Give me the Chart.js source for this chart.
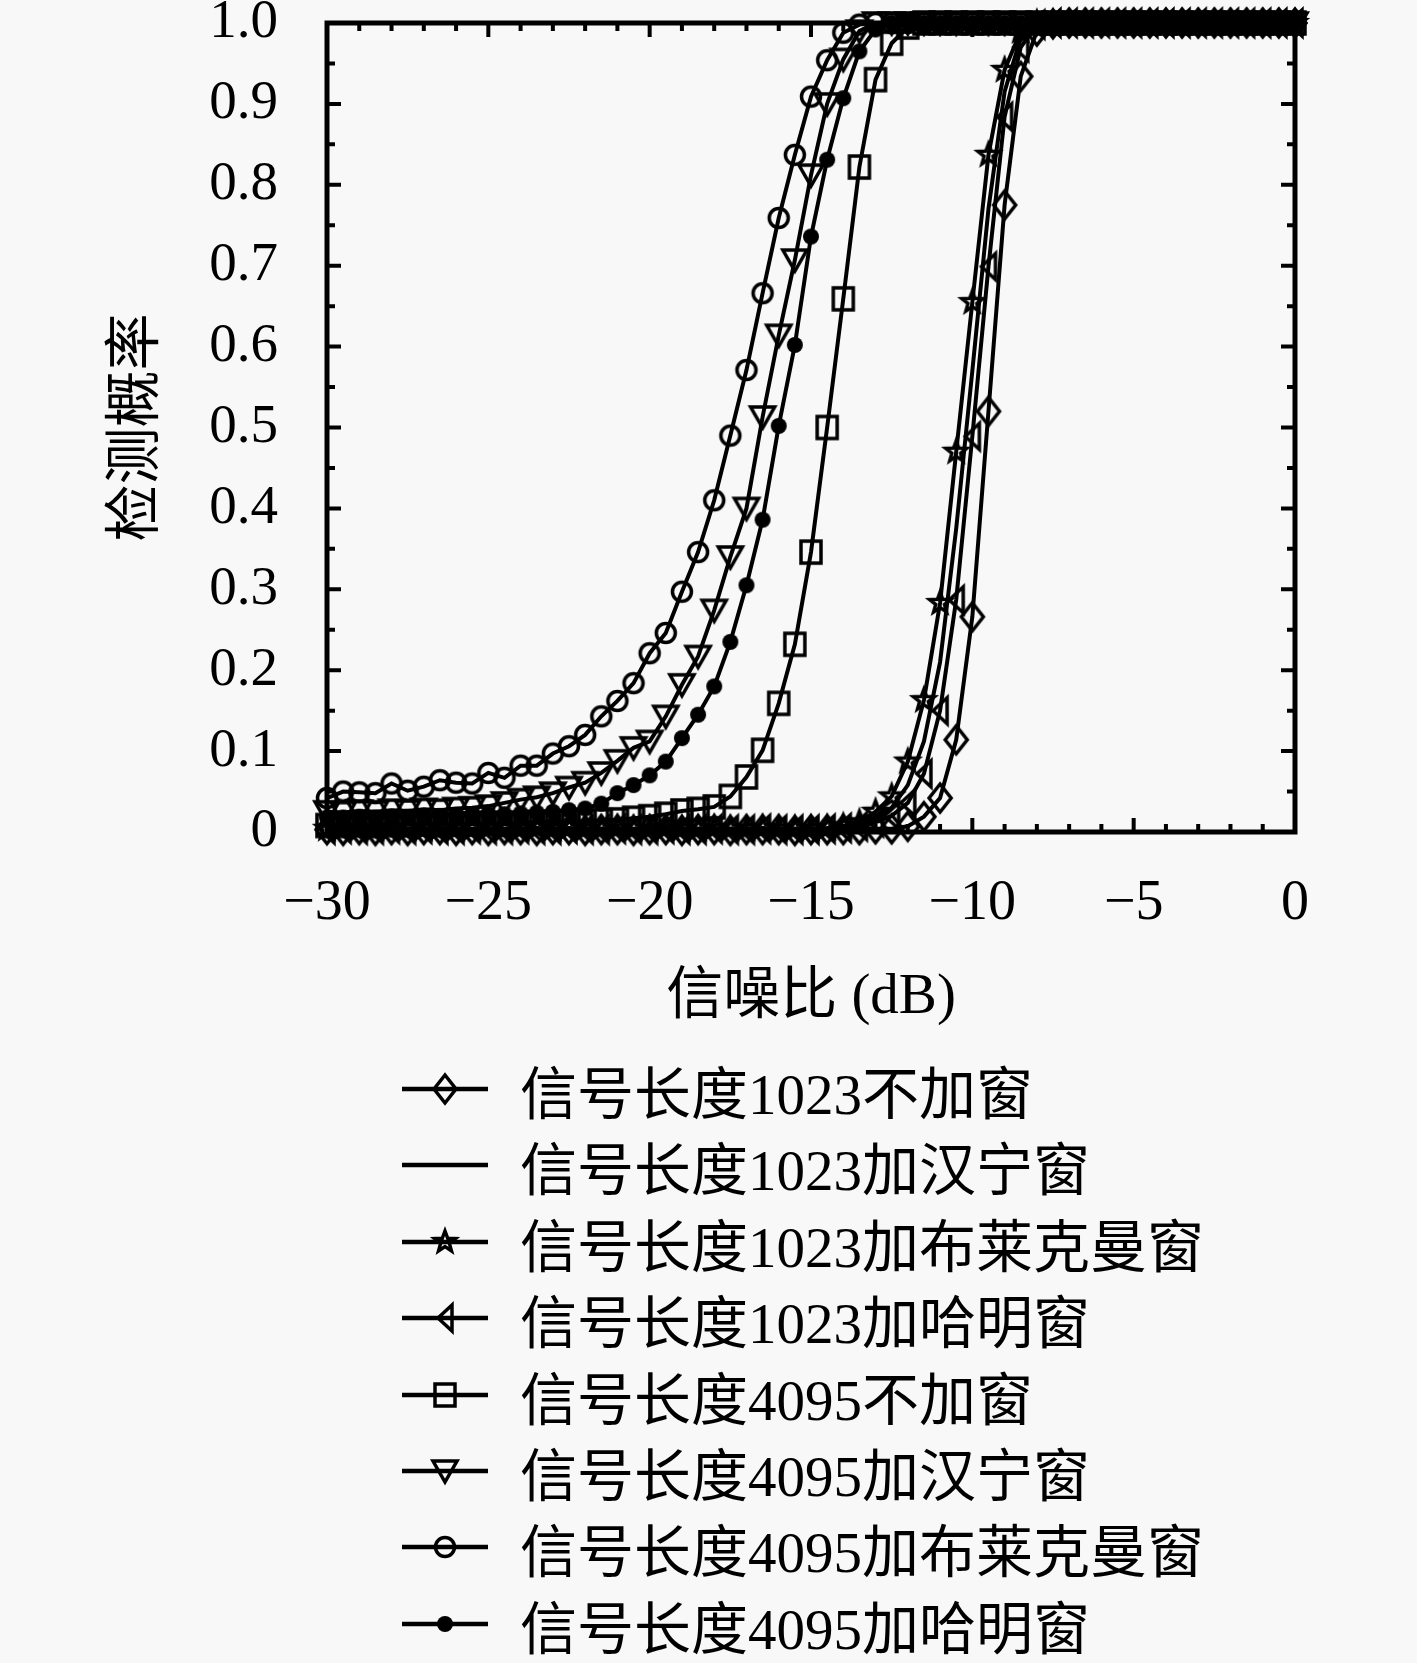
<!DOCTYPE html>
<html>
<head>
<meta charset="utf-8">
<script src="https://cdn.jsdelivr.net/npm/chart.js@4.4.1/dist/chart.umd.min.js"></script>
<style>
  body { margin: 0; background: #f8f8f8; }
  #page { position: relative; width: 1417px; height: 1663px; overflow: hidden; }
  #chartBox { position: absolute; left: 0; top: 0; width: 1417px; height: 1050px; }
  .row { position: absolute; left: 402px; height: 76px; display: flex; align-items: center;
         font: 57px 'Liberation Serif', 'Noto Sans CJK SC', serif; color: #000; white-space: nowrap; }
  .row canvas { margin-right: 32px; }
</style>
</head>
<body>
<div id="page">
  <div id="chartBox"><canvas id="pdChart"></canvas></div>
  <div id="legend"></div>
</div>
<script>
// SNR axis (dB), one point every 0.5 dB
const snr = [
  -30, -29.5, -29, -28.5, -28, -27.5, -27, -26.5, -26, -25.5,
  -25, -24.5, -24, -23.5, -23, -22.5, -22, -21.5, -21, -20.5,
  -20, -19.5, -19, -18.5, -18, -17.5, -17, -16.5, -16, -15.5,
  -15, -14.5, -14, -13.5, -13, -12.5, -12, -11.5, -11, -10.5,
  -10, -9.5, -9, -8.5, -8, -7.5, -7, -6.5, -6, -5.5,
  -5, -4.5, -4, -3.5, -3, -2.5, -2, -1.5, -1, -0.5,
  0
];

// detection probability, signal length 1023
const pd1023None = [
  0.003, 0.002, 0.003, 0.002, 0.003, 0.002, 0.003, 0.003, 0.002, 0.003,
  0.002, 0.003, 0.003, 0.002, 0.003, 0.003, 0.002, 0.003, 0.003, 0.002,
  0.003, 0.003, 0.002, 0.003, 0.003, 0.002, 0.003, 0.003, 0.003, 0.002,
  0.003, 0.003, 0.003, 0.003, 0.004, 0.004, 0.007, 0.019, 0.042, 0.114,
  0.266, 0.520, 0.775, 0.934, 0.990, 0.999, 1, 1, 1, 1,
  1, 1, 1, 1, 1, 1, 1, 1, 1, 1,
  1
];
const pd1023Hanning = [
  0.004, 0.003, 0.004, 0.004, 0.003, 0.004, 0.003, 0.004, 0.004, 0.003,
  0.004, 0.004, 0.003, 0.004, 0.004, 0.003, 0.004, 0.004, 0.004, 0.003,
  0.004, 0.004, 0.003, 0.004, 0.004, 0.004, 0.003, 0.004, 0.004, 0.004,
  0.004, 0.004, 0.005, 0.008, 0.016, 0.030, 0.058, 0.112, 0.210, 0.375,
  0.570, 0.770, 0.915, 0.982, 0.998, 1, 1, 1, 1, 1,
  1, 1, 1, 1, 1, 1, 1, 1, 1, 1,
  1
];
const pd1023Blackman = [
  0.004, 0.005, 0.004, 0.004, 0.005, 0.004, 0.004, 0.005, 0.004, 0.004,
  0.005, 0.004, 0.004, 0.005, 0.004, 0.005, 0.004, 0.004, 0.005, 0.004,
  0.004, 0.005, 0.004, 0.004, 0.005, 0.004, 0.004, 0.005, 0.004, 0.004,
  0.004, 0.005, 0.007, 0.012, 0.025, 0.044, 0.087, 0.163, 0.283, 0.470,
  0.655, 0.837, 0.942, 0.990, 1, 1, 1, 1, 1, 1,
  1, 1, 1, 1, 1, 1, 1, 1, 1, 1,
  1
];
const pd1023Hamming = [
  0.003, 0.004, 0.003, 0.003, 0.004, 0.003, 0.004, 0.003, 0.003, 0.004,
  0.003, 0.003, 0.004, 0.003, 0.003, 0.004, 0.003, 0.003, 0.004, 0.003,
  0.003, 0.004, 0.003, 0.003, 0.004, 0.003, 0.003, 0.004, 0.003, 0.003,
  0.003, 0.004, 0.005, 0.007, 0.012, 0.020, 0.036, 0.072, 0.150, 0.287,
  0.489, 0.699, 0.884, 0.970, 0.998, 1, 1, 1, 1, 1,
  1, 1, 1, 1, 1, 1, 1, 1, 1, 1,
  1
];

// detection probability, signal length 4095
const pd4095None = [
  0.008, 0.008, 0.009, 0.008, 0.009, 0.009, 0.010, 0.009, 0.010, 0.010,
  0.011, 0.010, 0.011, 0.012, 0.012, 0.013, 0.013, 0.014, 0.015, 0.017,
  0.019, 0.022, 0.026, 0.028, 0.031, 0.044, 0.068, 0.101, 0.159, 0.232,
  0.346, 0.500, 0.659, 0.822, 0.930, 0.975, 0.995, 1, 1, 1,
  1, 1, 1, 1, 1, 1, 1, 1, 1, 1,
  1, 1, 1, 1, 1, 1, 1, 1, 1, 1,
  1
];
const pd4095Hanning = [
  0.025, 0.024, 0.026, 0.025, 0.027, 0.026, 0.028, 0.027, 0.029, 0.030,
  0.032, 0.036, 0.040, 0.043, 0.048, 0.055, 0.061, 0.073, 0.088, 0.104,
  0.112, 0.143, 0.182, 0.217, 0.274, 0.340, 0.400, 0.513, 0.614, 0.707,
  0.812, 0.900, 0.955, 0.990, 1, 1, 1, 1, 1, 1,
  1, 1, 1, 1, 1, 1, 1, 1, 1, 1,
  1, 1, 1, 1, 1, 1, 1, 1, 1, 1,
  1
];
const pd4095Blackman = [
  0.042, 0.050, 0.049, 0.048, 0.060, 0.051, 0.056, 0.064, 0.061, 0.060,
  0.073, 0.067, 0.082, 0.082, 0.097, 0.106, 0.120, 0.143, 0.162, 0.184,
  0.221, 0.246, 0.297, 0.346, 0.410, 0.490, 0.571, 0.666, 0.759, 0.837,
  0.909, 0.954, 0.988, 0.998, 1, 1, 1, 1, 1, 1,
  1, 1, 1, 1, 1, 1, 1, 1, 1, 1,
  1, 1, 1, 1, 1, 1, 1, 1, 1, 1,
  1
];
const pd4095Hamming = [
  0.018, 0.018, 0.019, 0.018, 0.019, 0.019, 0.020, 0.020, 0.021, 0.021,
  0.022, 0.022, 0.023, 0.024, 0.025, 0.027, 0.029, 0.035, 0.048, 0.058,
  0.070, 0.087, 0.116, 0.145, 0.180, 0.235, 0.305, 0.386, 0.502, 0.602,
  0.736, 0.831, 0.907, 0.965, 0.992, 1, 1, 1, 1, 1,
  1, 1, 1, 1, 1, 1, 1, 1, 1, 1,
  1, 1, 1, 1, 1, 1, 1, 1, 1, 1,
  1
];

const seriesLabels = [
  '信号长度1023不加窗', '信号长度1023加汉宁窗', '信号长度1023加布莱克曼窗', '信号长度1023加哈明窗',
  '信号长度4095不加窗', '信号长度4095加汉宁窗', '信号长度4095加布莱克曼窗', '信号长度4095加哈明窗'
];
const seriesValues = [
  pd1023None, pd1023Hanning, pd1023Blackman, pd1023Hamming,
  pd4095None, pd4095Hanning, pd4095Blackman, pd4095Hamming
];

const xTicks = [-30, -25, -20, -15, -10, -5, 0];
const xTickLabels = ['−30', '−25', '−20', '−15', '−10', '−5', '0'];
const yTicks = [0, 0.1, 0.2, 0.3, 0.4, 0.5, 0.6, 0.7, 0.8, 0.9, 1.0];
const yTickLabels = ['0', '0.1', '0.2', '0.3', '0.4', '0.5', '0.6', '0.7', '0.8', '0.9', '1.0'];

const serif = "'Liberation Serif', 'Noto Sans CJK SC', serif";

// hollow marker glyphs drawn on small canvases, used as pointStyle
function makeMarker(draw) {
  const c = document.createElement('canvas');
  c.width = 36;
  c.height = 38;
  const g = c.getContext('2d');
  g.strokeStyle = '#000';
  g.fillStyle = '#000';
  g.lineWidth = 3.5;
  g.translate(18, 19);
  g.beginPath();
  draw(g);
  return c;
}

const markers = [
  makeMarker(g => { // diamond
    g.moveTo(0, -14); g.lineTo(11, 0); g.lineTo(0, 14); g.lineTo(-11, 0); g.closePath(); g.stroke();
  }),
  null,
  makeMarker(g => { // five point star
    for (let k = 0; k < 10; k++) {
      const r = k % 2 === 0 ? 11 : 4.6;
      const a = -Math.PI / 2 + k * Math.PI / 5;
      g.lineTo(r * Math.cos(a), r * Math.sin(a));
    }
    g.closePath(); g.stroke();
  }),
  makeMarker(g => { // left triangle
    g.moveTo(-7, 0); g.lineTo(7, -13); g.lineTo(7, 13); g.closePath(); g.stroke();
  }),
  makeMarker(g => { // square
    g.rect(-10, -11, 20, 22); g.stroke();
  }),
  makeMarker(g => { // down triangle
    g.moveTo(-12, -10); g.lineTo(12, -10); g.lineTo(0, 11); g.closePath(); g.stroke();
  }),
  makeMarker(g => { // circle
    g.arc(0, 0, 9.5, 0, Math.PI * 2); g.stroke();
  }),
  makeMarker(g => { // filled dot
    g.arc(0, 0, 8, 0, Math.PI * 2); g.fill();
  })
];

const datasets = seriesValues.map((vals, i) => ({
  label: seriesLabels[i],
  data: snr.map((x, k) => ({ x: x, y: vals[k] })),
  borderColor: '#000',
  borderWidth: 4,
  tension: 0,
  fill: false,
  clip: false,
  pointStyle: markers[i] || 'circle',
  pointRadius: markers[i] ? 10 : 0,
  pointHoverRadius: markers[i] ? 10 : 0
}));

// frame with inward ticks on all four sides
const framePlugin = {
  id: 'frame',
  beforeDatasetsDraw(chart) {
    const { ctx, chartArea: a, scales: { x, y } } = chart;
    ctx.save();
    ctx.strokeStyle = '#000';
    ctx.lineWidth = 5;
    ctx.strokeRect(a.left, a.top, a.right - a.left, a.bottom - a.top);
    ctx.lineWidth = 4;
    ctx.beginPath();
    for (let v = -30; v <= 0; v++) {
      const px = x.getPixelForValue(v);
      const len = v % 5 === 0 ? 14 : 8;
      ctx.moveTo(px, a.bottom); ctx.lineTo(px, a.bottom - len);
      ctx.moveTo(px, a.top); ctx.lineTo(px, a.top + len);
    }
    for (let k = 0; k <= 20; k++) {
      const py = y.getPixelForValue(k * 0.05);
      const len = k % 2 === 0 ? 14 : 8;
      ctx.moveTo(a.left, py); ctx.lineTo(a.left + len, py);
      ctx.moveTo(a.right, py); ctx.lineTo(a.right - len, py);
    }
    ctx.stroke();
    ctx.restore();
  }
};

const ctx = document.getElementById('pdChart').getContext('2d');
const chart = new Chart(ctx, {
  type: 'line',
  data: { datasets: datasets },
  options: {
    responsive: true,
    maintainAspectRatio: false,
    animation: false,
    layout: { padding: { top: 23, right: 122, left: 0, bottom: 0 } },
    plugins: { legend: { display: false }, tooltip: { enabled: false } },
    scales: {
      x: {
        type: 'linear',
        min: -30,
        max: 0,
        afterBuildTicks: s => { s.ticks = xTicks.map(v => ({ value: v })); },
        ticks: {
          padding: 39,
          color: '#000',
          font: { family: serif, size: 56 },
          callback: (v, i) => xTickLabels[i]
        },
        grid: { display: false, drawTicks: false },
        border: { display: false },
        title: {
          display: true,
          text: '信噪比 (dB)',
          color: '#000',
          font: { family: serif, size: 57 },
          padding: { top: 0, bottom: 18 }
        },
        afterFit: s => { s.height = 218; s.paddingLeft = 0; s.paddingRight = 0; }
      },
      y: {
        min: 0,
        max: 1,
        afterBuildTicks: s => { s.ticks = yTicks.map(v => ({ value: v })); },
        ticks: {
          padding: 49,
          color: '#000',
          font: { family: serif, size: 55 },
          callback: (v, i) => yTickLabels[i]
        },
        grid: { display: false, drawTicks: false },
        border: { display: false },
        title: {
          display: true,
          text: '检测概率',
          color: '#000',
          font: { family: serif, size: 57 },
          padding: { top: 104, bottom: 0 }
        },
        afterFit: s => { s.width = 327; s.paddingTop = 0; s.paddingBottom = 0; }
      }
    }
  },
  plugins: [framePlugin]
});

// legend: line sample with marker, then label text
const legendEl = document.getElementById('legend');
const legendTop = 1051;
const legendStep = 76.4;
chart.data.datasets.forEach((ds, i) => {
  const row = document.createElement('div');
  row.className = 'row';
  row.style.top = (legendTop + i * legendStep) + 'px';
  const c = document.createElement('canvas');
  c.width = 86;
  c.height = 40;
  const g = c.getContext('2d');
  g.strokeStyle = '#000';
  g.lineWidth = 4.5;
  g.beginPath();
  g.moveTo(0, 20);
  g.lineTo(86, 20);
  g.stroke();
  const m = markers[i];
  if (m) g.drawImage(m, 43 - m.width / 2, 20 - m.height / 2);
  const span = document.createElement('span');
  span.textContent = ds.label;
  row.appendChild(c);
  row.appendChild(span);
  legendEl.appendChild(row);
});
</script>
</body>
</html>
